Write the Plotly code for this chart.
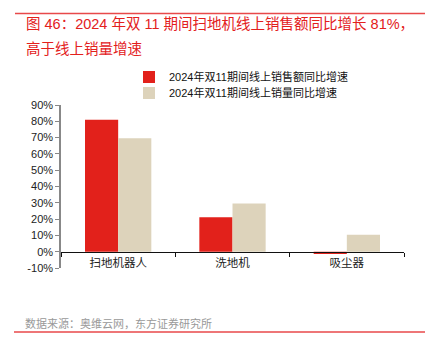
import plotly.graph_objects as go

categories = ["扫地机器人", "洗地机", "吸尘器"]
sales_growth = [81.0, 21.2, -1.4]
volume_growth = [69.6, 29.5, 10.4]
series_names = ["2024年双11期间线上销售额同比增速", "2024年双11期间线上销量同比增速"]
y_ticks = list(range(-10, 91, 10))
y_tick_labels = [f"{v}%" for v in y_ticks]

W, H = 425, 349
L, R, T, B = 61, 21, 105, 81
PW, PH = W - L - R, H - T - B

def px(x):
    return (x - L) / PW

def py(y):
    return (H - B - y) / PH

CJK = "Liberation Sans, Noto Sans CJK SC, sans-serif"

fig = go.Figure()
fig.add_trace(go.Bar(x=categories, y=sales_growth, name=series_names[0],
                     marker=dict(color="#E2211B", line=dict(width=0)),
                     legend="legend"))
fig.add_trace(go.Bar(x=categories, y=volume_growth, name=series_names[1],
                     marker=dict(color="#DDD3BB", line=dict(width=0)),
                     legend="legend2"))

legend_common = dict(xanchor="left", yanchor="middle",
                     font=dict(size=11, color="#111111"), itemwidth=30,
                     bgcolor="rgba(0,0,0,0)", borderwidth=0)

fig.update_layout(
    width=W, height=H,
    margin=dict(l=L, r=R, t=T, b=B),
    paper_bgcolor="white", plot_bgcolor="white",
    barmode="group", bargap=0.42, bargroupgap=0,
    font=dict(family=CJK, size=11, color="#222222"),
    showlegend=True,
    legend=dict(x=px(129), y=py(77), **legend_common),
    legend2=dict(x=px(129), y=py(93), **legend_common),
    xaxis=dict(anchor="free", position=py(252.3), showline=True,
               linecolor="#111111", linewidth=1, ticks="outside", ticklen=4,
               tickcolor="#111111", tickson="boundaries", showgrid=False,
               tickfont=dict(size=11.5, color="#222222")),
    yaxis=dict(range=[-10, 90], tickvals=y_ticks, ticktext=y_tick_labels,
               showline=True, linecolor="#888888", linewidth=1.5,
               ticks="outside", ticklen=4, tickcolor="#888888",
               showgrid=False, zeroline=False,
               tickfont=dict(size=11, color="#222222")),
)

fig.add_annotation(xref="paper", yref="paper", x=px(24), y=py(24),
                   xanchor="left", yanchor="middle", showarrow=False,
                   text="图 46：2024 年双 11 期间扫地机线上销售额同比增长 81%，",
                   font=dict(size=14.5, color="#E3201C", family=CJK))
fig.add_annotation(xref="paper", yref="paper", x=px(24), y=py(49),
                   xanchor="left", yanchor="middle", showarrow=False,
                   text="高于线上销量增速",
                   font=dict(size=14.5, color="#E3201C", family=CJK))
fig.add_annotation(xref="paper", yref="paper", x=px(23), y=py(323),
                   xanchor="left", yanchor="middle", showarrow=False,
                   text="数据来源：奥维云网，东方证券研究所",
                   font=dict(size=11, color="#999999", family=CJK))

fig.add_shape(type="line", xref="paper", yref="paper",
              x0=px(15), x1=px(425), y0=py(13.5), y1=py(13.5),
              line=dict(color="#E8494A", width=1.5))
fig.add_shape(type="line", xref="paper", yref="paper",
              x0=px(14), x1=px(425), y0=py(332), y1=py(332),
              line=dict(color="#E8494A", width=1.5))

fig.write_html("out.html")
